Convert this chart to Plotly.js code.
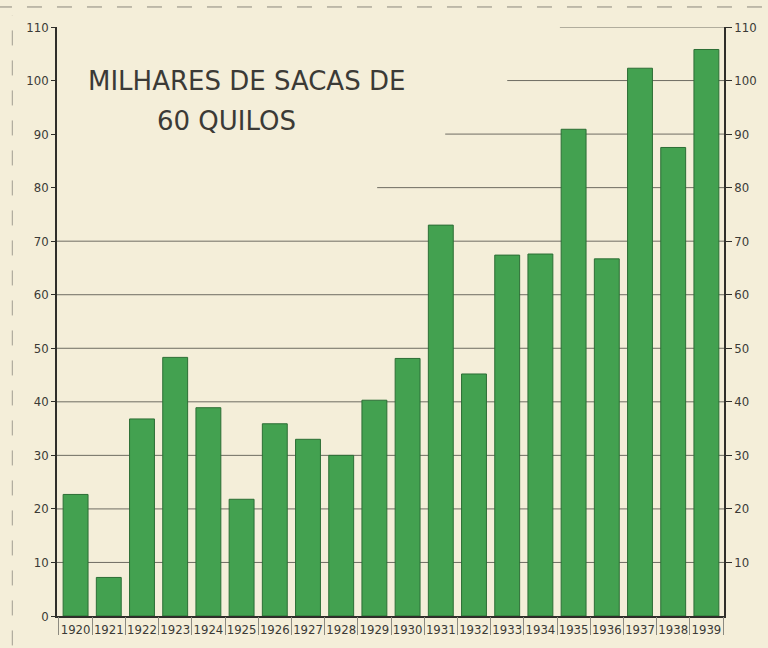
<!DOCTYPE html>
<html>
<head>
<meta charset="utf-8">
<script src="https://cdn.plot.ly/plotly-3.0.1.min.js"></script>
<style>
  html, body { margin: 0; padding: 0; background: #f4eed9; }
  #plot { width: 768px; height: 648px; }
</style>
</head>
<body>
<div id="plot"></div>
<script>
// anos e produção (milhares de sacas de 60 quilos)
const years = ['1920', '1921', '1922', '1923', '1924', '1925', '1926', '1927', '1928', '1929',
               '1930', '1931', '1932', '1933', '1934', '1935', '1936', '1937', '1938', '1939'];
const sacks = [22.7, 7.2, 36.8, 48.3, 38.9, 21.8, 35.9, 33.0, 30.0, 40.3,
               48.1, 73.0, 45.2, 67.4, 67.6, 90.9, 66.7, 102.3, 87.5, 105.8];

// ticks dos eixos
const leftTicks = [0, 10, 20, 30, 40, 50, 60, 70, 80, 90, 100, 110];
const rightTicks = [10, 20, 30, 40, 50, 60, 70, 80, 90, 100, 110];

// linhas de grade: as de baixo atravessam tudo, as de cima só a parte direita
const gridFull = [10, 20, 30, 40, 50, 60, 70];
const gridPartial = [80, 90, 100, 110];
const gridPartialStart = [0.48, 0.582, 0.675, 0.754];

const titleLines = ['MILHARES DE SACAS DE', '60 QUILOS'];

function initPlot() {
    const ink = '#3b3a36';
    const tickFont = {
        family: 'DejaVu Sans Condensed, DejaVu Sans, sans-serif',
        stretch: 'condensed',
        size: 13,
        color: ink
    };

    const bars = {
        type: 'bar',
        x: years,
        y: sacks,
        marker: {
            color: '#43a150',
            line: { color: '#2c6e35', width: 1 }
        },
        hoverinfo: 'x+y'
    };

    // cópia invisível só para desenhar o eixo da direita e os separadores dos anos
    const ghost = {
        type: 'bar',
        x: years,
        y: sacks,
        xaxis: 'x2',
        yaxis: 'y2',
        opacity: 0,
        hoverinfo: 'skip',
        showlegend: false
    };

    const shapes = [];
    gridFull.forEach(v => {
        shapes.push({
            type: 'line', layer: 'below', xref: 'paper', yref: 'y',
            x0: 0, x1: 1, y0: v, y1: v,
            line: { color: '#6e6c62', width: 1 }
        });
    });
    gridPartial.forEach((v, i) => {
        shapes.push({
            type: 'line', layer: 'below', xref: 'paper', yref: 'y',
            x0: gridPartialStart[i], x1: 1, y0: v, y1: v,
            line: { color: '#6e6c62', width: 1 }
        });
    });
    // bordas da folha digitalizada
    shapes.push({
        type: 'line', layer: 'below', xref: 'paper', yref: 'paper',
        x0: -0.09, x1: 1.07, y0: 1.034, y1: 1.034,
        line: { color: '#8a877c', width: 1, dash: 'longdash' }
    });
    shapes.push({
        type: 'line', layer: 'below', xref: 'paper', yref: 'paper',
        x0: -0.067, x1: -0.067, y0: -0.05, y1: 1.02,
        line: { color: '#a09d90', width: 1, dash: 'longdash' }
    });

    const annotations = [
        {
            text: titleLines[0], xref: 'paper', yref: 'y', x: 0.043, y: 100,
            xanchor: 'left', yanchor: 'middle', showarrow: false,
            font: { family: 'DejaVu Sans, sans-serif', size: 26, color: ink }
        },
        {
            text: titleLines[1], xref: 'paper', yref: 'y', x: 0.147, y: 92.5,
            xanchor: 'left', yanchor: 'middle', showarrow: false,
            font: { family: 'DejaVu Sans, sans-serif', size: 26, color: ink }
        }
    ];

    const xRange = [-0.56, 19.53];

    const layout = {
        width: 768,
        height: 648,
        margin: { l: 57, r: 44, t: 27, b: 32 },
        paper_bgcolor: '#f4eed9',
        plot_bgcolor: '#f4eed9',
        bargap: 0.25,
        showlegend: false,
        hovermode: 'closest',
        xaxis: {
            type: 'category',
            range: xRange,
            showgrid: false,
            zeroline: false,
            showline: true,
            linecolor: '#2f2e2a',
            linewidth: 1.5,
            ticks: '',
            tickangle: 0,
            tickfont: tickFont,
            ticklabelstandoff: 1
        },
        xaxis2: {
            type: 'category',
            overlaying: 'x',
            anchor: 'y',
            side: 'bottom',
            range: xRange,
            showgrid: false,
            zeroline: false,
            showline: false,
            ticks: 'outside',
            tickson: 'boundaries',
            ticklen: 18,
            tickwidth: 1,
            tickcolor: '#8c8a80',
            showticklabels: false
        },
        yaxis: {
            range: [0, 110],
            tickvals: leftTicks,
            showgrid: false,
            zeroline: false,
            showline: true,
            linecolor: '#2f2e2a',
            linewidth: 1.5,
            ticks: 'outside',
            ticklen: 4,
            tickcolor: '#2f2e2a',
            tickfont: tickFont
        },
        yaxis2: {
            range: [0, 110],
            overlaying: 'y',
            side: 'right',
            anchor: 'x',
            tickvals: rightTicks,
            showgrid: false,
            zeroline: false,
            showline: true,
            linecolor: '#2f2e2a',
            linewidth: 1.5,
            ticks: 'outside',
            ticklen: 6,
            tickcolor: '#2f2e2a',
            tickfont: tickFont
        },
        shapes: shapes,
        annotations: annotations
    };

    const config = {
        responsive: false,
        displayModeBar: false
    };

    Plotly.newPlot('plot', [bars, ghost], layout, config);
}

document.addEventListener('DOMContentLoaded', initPlot);
</script>
</body>
</html>
